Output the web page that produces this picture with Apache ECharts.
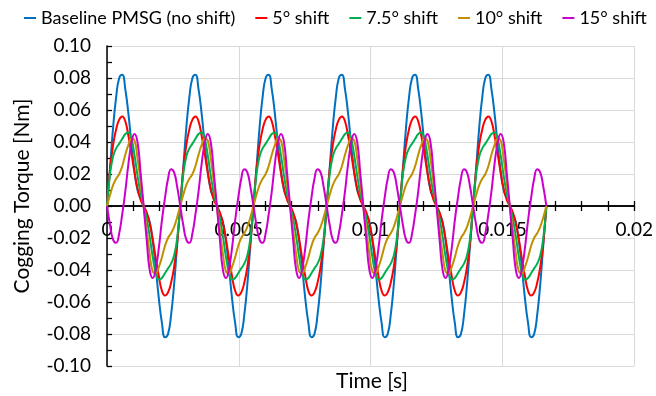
<!DOCTYPE html>
<html><head><meta charset="utf-8">
<script src="https://cdn.jsdelivr.net/npm/echarts@6/dist/echarts.min.js"></script>
<style>html,body{margin:0;padding:0;background:#fff}#c{width:656px;height:396px}</style>
</head><body><div id="c"></div>
<script>
// sample times in microseconds (24 samples per cogging period, 6 periods)
const timeUs = [
0,116,231,347,463,579,694,810,926,1042,1157,1273,1389,1505,1620,1736,1852,1968,2083,2199,2315,2431,2546,2662,
2778,2894,3009,3125,3241,3356,3472,3588,3704,3819,3935,4051,4167,4282,4398,4514,4630,4745,4861,4977,5093,5208,5324,5440,
5556,5671,5787,5903,6019,6134,6250,6366,6481,6597,6713,6829,6944,7060,7176,7292,7407,7523,7639,7755,7870,7986,8102,8218,
8333,8449,8565,8681,8796,8912,9028,9144,9259,9375,9491,9606,9722,9838,9954,10069,10185,10301,10417,10532,10648,10764,10880,10995,
11111,11227,11343,11458,11574,11690,11806,11921,12037,12153,12269,12384,12500,12616,12731,12847,12963,13079,13194,13310,13426,13542,13657,13773,
13889,14005,14120,14236,14352,14468,14583,14699,14815,14931,15046,15162,15278,15394,15509,15625,15741,15856,15972,16088,16204,16319,16435,16551,
16667];

const baseline = [
0,0.024,0.049,0.068,0.080,0.082,0.073,0.058,0.039,0.022,0.010,0.005,0,-0.005,-0.010,-0.022,-0.039,-0.058,-0.073,-0.082,-0.080,-0.068,-0.049,-0.024,
0,0.024,0.049,0.068,0.080,0.082,0.073,0.058,0.039,0.022,0.010,0.005,0,-0.005,-0.010,-0.022,-0.039,-0.058,-0.073,-0.082,-0.080,-0.068,-0.049,-0.024,
0,0.024,0.049,0.068,0.080,0.082,0.073,0.058,0.039,0.022,0.010,0.005,0,-0.005,-0.010,-0.022,-0.039,-0.058,-0.073,-0.082,-0.080,-0.068,-0.049,-0.024,
0,0.024,0.049,0.068,0.080,0.082,0.073,0.058,0.039,0.022,0.010,0.005,0,-0.005,-0.010,-0.022,-0.039,-0.058,-0.073,-0.082,-0.080,-0.068,-0.049,-0.024,
0,0.024,0.049,0.068,0.080,0.082,0.073,0.058,0.039,0.022,0.010,0.005,0,-0.005,-0.010,-0.022,-0.039,-0.058,-0.073,-0.082,-0.080,-0.068,-0.049,-0.024,
0,0.024,0.049,0.068,0.080,0.082,0.073,0.058,0.039,0.022,0.010,0.005,0,-0.005,-0.010,-0.022,-0.039,-0.058,-0.073,-0.082,-0.080,-0.068,-0.049,-0.024,
0];

const shift5 = [
0,0.023,0.038,0.048,0.054,0.056,0.053,0.044,0.033,0.021,0.011,0.004,0,-0.004,-0.011,-0.021,-0.033,-0.044,-0.053,-0.056,-0.054,-0.048,-0.038,-0.023,
0,0.023,0.038,0.048,0.054,0.056,0.053,0.044,0.033,0.021,0.011,0.004,0,-0.004,-0.011,-0.021,-0.033,-0.044,-0.053,-0.056,-0.054,-0.048,-0.038,-0.023,
0,0.023,0.038,0.048,0.054,0.056,0.053,0.044,0.033,0.021,0.011,0.004,0,-0.004,-0.011,-0.021,-0.033,-0.044,-0.053,-0.056,-0.054,-0.048,-0.038,-0.023,
0,0.023,0.038,0.048,0.054,0.056,0.053,0.044,0.033,0.021,0.011,0.004,0,-0.004,-0.011,-0.021,-0.033,-0.044,-0.053,-0.056,-0.054,-0.048,-0.038,-0.023,
0,0.023,0.038,0.048,0.054,0.056,0.053,0.044,0.033,0.021,0.011,0.004,0,-0.004,-0.011,-0.021,-0.033,-0.044,-0.053,-0.056,-0.054,-0.048,-0.038,-0.023,
0,0.023,0.038,0.048,0.054,0.056,0.053,0.044,0.033,0.021,0.011,0.004,0,-0.004,-0.011,-0.021,-0.033,-0.044,-0.053,-0.056,-0.054,-0.048,-0.038,-0.023,
0];

const shift7_5 = [
0,0.020,0.031,0.036,0.039,0.042,0.045,0.046,0.042,0.032,0.019,0.008,0,-0.008,-0.019,-0.032,-0.042,-0.046,-0.045,-0.042,-0.039,-0.036,-0.031,-0.020,
0,0.020,0.031,0.036,0.039,0.042,0.045,0.046,0.042,0.032,0.019,0.008,0,-0.008,-0.019,-0.032,-0.042,-0.046,-0.045,-0.042,-0.039,-0.036,-0.031,-0.020,
0,0.020,0.031,0.036,0.039,0.042,0.045,0.046,0.042,0.032,0.019,0.008,0,-0.008,-0.019,-0.032,-0.042,-0.046,-0.045,-0.042,-0.039,-0.036,-0.031,-0.020,
0,0.020,0.031,0.036,0.039,0.042,0.045,0.046,0.042,0.032,0.019,0.008,0,-0.008,-0.019,-0.032,-0.042,-0.046,-0.045,-0.042,-0.039,-0.036,-0.031,-0.020,
0,0.020,0.031,0.036,0.039,0.042,0.045,0.046,0.042,0.032,0.019,0.008,0,-0.008,-0.019,-0.032,-0.042,-0.046,-0.045,-0.042,-0.039,-0.036,-0.031,-0.020,
0,0.020,0.031,0.036,0.039,0.042,0.045,0.046,0.042,0.032,0.019,0.008,0,-0.008,-0.019,-0.032,-0.042,-0.046,-0.045,-0.042,-0.039,-0.036,-0.031,-0.020,
0];

const shift10 = [
0,0.007,0.013,0.017,0.020,0.025,0.032,0.038,0.042,0.041,0.030,0.015,0,-0.015,-0.030,-0.041,-0.042,-0.038,-0.032,-0.025,-0.020,-0.017,-0.013,-0.007,
0,0.007,0.013,0.017,0.020,0.025,0.032,0.038,0.042,0.041,0.030,0.015,0,-0.015,-0.030,-0.041,-0.042,-0.038,-0.032,-0.025,-0.020,-0.017,-0.013,-0.007,
0,0.007,0.013,0.017,0.020,0.025,0.032,0.038,0.042,0.041,0.030,0.015,0,-0.015,-0.030,-0.041,-0.042,-0.038,-0.032,-0.025,-0.020,-0.017,-0.013,-0.007,
0,0.007,0.013,0.017,0.020,0.025,0.032,0.038,0.042,0.041,0.030,0.015,0,-0.015,-0.030,-0.041,-0.042,-0.038,-0.032,-0.025,-0.020,-0.017,-0.013,-0.007,
0,0.007,0.013,0.017,0.020,0.025,0.032,0.038,0.042,0.041,0.030,0.015,0,-0.015,-0.030,-0.041,-0.042,-0.038,-0.032,-0.025,-0.020,-0.017,-0.013,-0.007,
0,0.007,0.013,0.017,0.020,0.025,0.032,0.038,0.042,0.041,0.030,0.015,0,-0.015,-0.030,-0.041,-0.042,-0.038,-0.032,-0.025,-0.020,-0.017,-0.013,-0.007,
0];

const shift15 = [
0,-0.012,-0.021,-0.023,-0.017,-0.005,0.009,0.026,0.039,0.045,0.040,0.021,0,-0.021,-0.040,-0.045,-0.039,-0.026,-0.009,0.005,0.017,0.023,0.021,0.012,
0,-0.012,-0.021,-0.023,-0.017,-0.005,0.009,0.026,0.039,0.045,0.040,0.021,0,-0.021,-0.040,-0.045,-0.039,-0.026,-0.009,0.005,0.017,0.023,0.021,0.012,
0,-0.012,-0.021,-0.023,-0.017,-0.005,0.009,0.026,0.039,0.045,0.040,0.021,0,-0.021,-0.040,-0.045,-0.039,-0.026,-0.009,0.005,0.017,0.023,0.021,0.012,
0,-0.012,-0.021,-0.023,-0.017,-0.005,0.009,0.026,0.039,0.045,0.040,0.021,0,-0.021,-0.040,-0.045,-0.039,-0.026,-0.009,0.005,0.017,0.023,0.021,0.012,
0,-0.012,-0.021,-0.023,-0.017,-0.005,0.009,0.026,0.039,0.045,0.040,0.021,0,-0.021,-0.040,-0.045,-0.039,-0.026,-0.009,0.005,0.017,0.023,0.021,0.012,
0,-0.012,-0.021,-0.023,-0.017,-0.005,0.009,0.026,0.039,0.045,0.040,0.021,0,-0.021,-0.040,-0.045,-0.039,-0.026,-0.009,0.005,0.017,0.023,0.021,0.012,
0];

const seriesNames = ['Baseline PMSG (no shift)', '5\u00b0 shift', '7.5\u00b0 shift', '10\u00b0 shift', '15\u00b0 shift'];
const seriesValues = [baseline, shift5, shift7_5, shift10, shift15];
const seriesColors = ['#0070C0', '#FF0000', '#00B050', '#BF9000', '#CC00CC'];
const xTitle = 'Time [s]';
const yTitle = 'Cogging Torque [Nm]';

const FONT = 'Lato, "Open Sans", sans-serif';
const chart = echarts.init(document.getElementById('c'), null, {renderer: 'canvas'});

const series = seriesValues.map((vals, i) => ({
  name: seriesNames[i],
  type: 'line',
  xAxisIndex: 0,
  yAxisIndex: 0,
  showSymbol: false,
  smooth: 0.5,
  lineStyle: {color: seriesColors[i], width: 2},
  itemStyle: {color: seriesColors[i]},
  data: vals.map((v, k) => [timeUs[k] / 1e6, v])
}));

// plot area: top 46, bottom edge 366, so y = 0 sits 160 px above the bottom / below the top
const ZERO_OFFSET = -160;

const option = {
  animation: false,
  backgroundColor: '#fff',
  textStyle: {fontFamily: FONT},
  grid: {left: 107, right: 16, top: 46, bottom: 30, containLabel: false},
  legend: {
    data: seriesNames,
    left: 24, top: 9, width: 640, padding: 0,
    icon: 'rect', itemWidth: 12, itemHeight: 2, itemGap: 20,
    textStyle: {fontFamily: FONT, fontSize: 18, color: '#000'}
  },
  xAxis: [{
    type: 'value', min: 0, max: 0.02, interval: 0.005, position: 'bottom', offset: ZERO_OFFSET,
    axisLine: {show: true, onZero: false, lineStyle: {color: '#000', width: 1.5}},
    axisTick: {show: true, inside: false, length: 5, lineStyle: {color: '#000', width: 1.3}},
    minorTick: {show: true, splitNumber: 5, length: 5, lineStyle: {color: '#000', width: 1.3}},
    axisLabel: {fontFamily: FONT, fontSize: 19, color: '#000', margin: 14},
    splitLine: {show: true, lineStyle: {color: '#D9D9D9', width: 1}}
  }, {
    type: 'value', min: 0, max: 0.02, interval: 0.005, position: 'top', offset: ZERO_OFFSET,
    axisLine: {show: true, onZero: false, lineStyle: {color: '#000', width: 1.5}},
    axisTick: {show: true, inside: false, length: 5, lineStyle: {color: '#000', width: 1.3}},
    minorTick: {show: true, splitNumber: 5, length: 5, lineStyle: {color: '#000', width: 1.3}},
    axisLabel: {show: false},
    splitLine: {show: false}
  }],
  yAxis: [{
    type: 'value', min: -0.1, max: 0.1, interval: 0.02,
    axisLine: {show: true, onZero: false, lineStyle: {color: '#000', width: 1.5}},
    axisTick: {show: true, inside: true, length: 5, lineStyle: {color: '#000', width: 1.3}},
    minorTick: {show: true, splitNumber: 2, length: 5, lineStyle: {color: '#000', width: 1.3}},
    axisLabel: {fontFamily: FONT, fontSize: 19, color: '#000', margin: 16, formatter: v => v.toFixed(2)},
    splitLine: {show: true, lineStyle: {color: '#D9D9D9', width: 1}}
  }],
  graphic: [
    {type: 'text', x: 372, y: 381, style: {text: xTitle, font: '21px ' + FONT, fill: '#000', align: 'center', verticalAlign: 'middle'}},
    {type: 'text', x: 22, y: 196, rotation: Math.PI / 2, style: {text: yTitle, font: '21px ' + FONT, fill: '#000', align: 'center', verticalAlign: 'middle'}}
  ],
  series: series
};
chart.setOption(option);
</script>
</body></html>
